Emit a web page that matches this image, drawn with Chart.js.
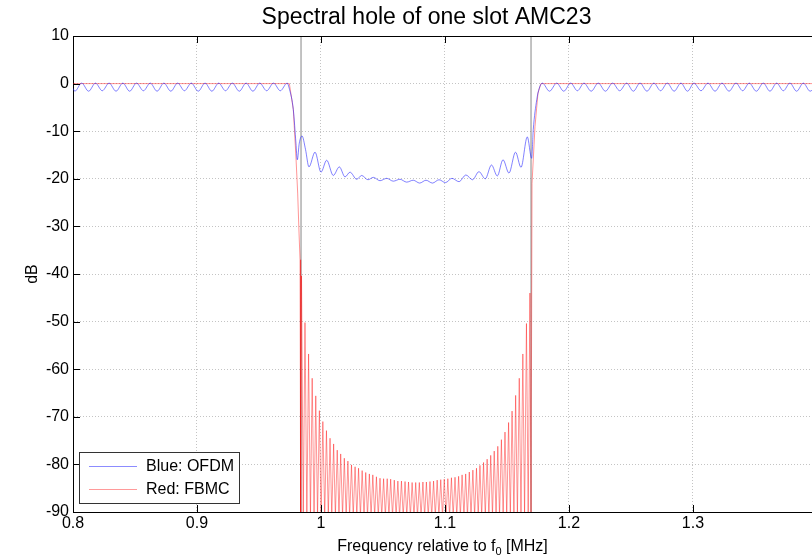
<!DOCTYPE html>
<html><head><meta charset="utf-8">
<style>html,body{margin:0;padding:0;background:#fff;overflow:hidden}#wrap{width:812px;height:557px}</style>
</head><body><div id="wrap"><canvas id="c" width="812" height="557"></canvas></div>
<script src="https://cdn.jsdelivr.net/npm/chart.js@4.4.0/dist/chart.umd.min.js"></script>
<script>
// ---------- text ----------
const titleText = 'Spectral hole of one slot AMC23';
const xLabelMain = 'Frequency relative to f';
const xLabelSub = '0';
const xLabelTail = ' [MHz]';
const yLabelText = 'dB';
const legendLabels = ['Blue: OFDM', 'Red: FBMC'];

// ---------- axes ----------
const xMin = 0.8, xMax = 1.396, xStep = 0.1;
const yMin = -90, yMax = 10, yStep = 10;
const holeEdges = [0.9839, 1.1694];

// ---------- Blue: OFDM ----------
const blueF = [
 0.8000,0.8015,0.8070,0.8126,0.8181,0.8236,0.8291,0.8347,0.8402,0.8457,0.8512,0.8568,0.8623,0.8678,0.8733,0.8789,
 0.8844,0.8899,0.8954,0.9010,0.9065,0.9120,0.9175,0.9230,0.9285,0.9341,0.9396,0.9451,0.9506,0.9562,0.9617,0.9672,0.9727,
 0.9746,0.9777,0.9798,0.9809,0.9825,0.9847,0.9875,0.9903,0.9952,1.0000,1.0046,1.0099,1.0148,1.0194,1.0234,1.0288,
 1.0328,1.0379,1.0422,1.0476,1.0530,1.0583,1.0637,1.0691,1.0744,1.0796,1.0847,1.0899,1.0952,1.1004,1.1056,1.1113,
 1.1169,1.1222,1.1274,1.1325,1.1375,1.1422,1.1468,1.1516,1.1569,1.1613,1.1664,1.1699,1.1712,1.1740,1.1760,1.1785,
 1.1843,1.1901,1.1958,1.2014,1.2068,1.2121,1.2179,1.2236,1.2294,1.2352,1.2409,1.2465,1.2519,1.2573,1.2629,1.2685,
 1.2739,1.2793,1.2848,1.2903,1.2956,1.3008,1.3065,1.3121,1.3178,1.3234,1.3291,1.3347,1.3401,1.3454,1.3511,1.3567,
 1.3621,1.3675,1.3729,1.3782,1.3836,1.3890,1.3945,1.3980
];
const blueDb = [
 -1.0,-1.6,0.1,-1.6,0.1,-1.5,0.1,-1.6,0.1,-1.6,0.1,-1.5,0.1,-1.6,0.1,-1.6,
 0.1,-1.5,0.1,-1.6,0.1,-1.6,0.1,-1.5,0.1,-1.6,0.1,-1.6,0.1,-1.5,0.1,-1.5,0.1,
 -1.2,-5.5,-12.5,-16.0,-12.5,-11.0,-13.8,-17.5,-14.4,-18.6,-16.1,-19.3,-17.5,-19.6,-18.6,-20.1,
 -19.3,-20.2,-19.7,-20.4,-19.9,-20.5,-20.1,-20.7,-20.3,-20.9,-20.3,-20.9,-20.2,-20.8,-19.9,-20.6,
 -19.2,-20.2,-18.5,-20.0,-17.1,-19.4,-16.0,-18.8,-14.4,-17.6,-11.2,-15.7,-9.7,-3.4,-1.0,0.1,
 -1.6,0.1,-1.6,0.1,-1.5,0.1,-1.6,0.1,-1.6,0.1,-1.5,0.1,-1.6,0.1,-1.6,0.1,
 -1.5,0.1,-1.6,0.1,-1.6,0.1,-1.5,0.1,-1.6,0.1,-1.6,0.1,-1.5,0.1,-1.6,0.1,
 -1.6,0.1,-1.5,0.1,-1.6,0.1,-1.6,-0.8
];

// ---------- Red: FBMC ----------
const NULL_DB = -91; // spectral nulls fall below the visible axis
const redLeftF  = [0.8000, 0.9745, 0.9777, 0.9798, 0.9812, 0.9823, 0.9831, 0.9836];
const redLeftDb = [0,      0,      -5.5,   -15.4,  -23.0,  -31.4,  -37.0,  NULL_DB];
const redPeakF = [
 0.9843,0.9871,0.9900,0.9929,0.9958,0.9987,1.0015,1.0044,1.0073,1.0102,1.0131,1.0159,1.0188,1.0217,1.0246,1.0275,
 1.0303,1.0332,1.0361,1.0390,1.0418,1.0447,1.0476,1.0505,1.0534,1.0562,1.0591,1.0620,1.0649,1.0678,1.0706,1.0735,
 1.0764,1.0793,1.0822,1.0850,1.0879,1.0908,1.0937,1.0966,1.0994,1.1023,1.1052,1.1081,1.1110,1.1138,1.1167,1.1196,
 1.1225,1.1254,1.1282,1.1311,1.1340,1.1369,1.1397,1.1426,1.1455,1.1484,1.1513,1.1541,1.1570,1.1599,1.1628,1.1657,1.1685
];
const redPeakDb = [
 -40.4,-50.2,-56.8,-61.9,-65.6,-68.7,-71.0,-72.9,-74.5,-75.7,-77.0,-77.8,-78.7,-79.3,-80.1,-80.5,
 -80.8,-81.3,-81.7,-82.0,-82.2,-82.6,-82.9,-83.0,-83.0,-83.1,-83.3,-83.5,-83.5,-83.6,-83.7,-83.8,
 -83.8,-83.8,-83.7,-83.7,-83.6,-83.5,-83.3,-83.2,-83.1,-83.0,-82.8,-82.7,-82.5,-82.2,-82.0,-81.6,
 -81.2,-80.8,-80.2,-79.6,-78.9,-78.1,-77.2,-76.2,-74.8,-73.2,-71.2,-68.8,-65.5,-61.9,-56.8,-50.4,-44.0
];
const redNullF = [
 0.9857,0.9886,0.9915,0.9944,0.9972,1.0001,1.0030,1.0059,1.0087,1.0116,1.0145,1.0174,1.0203,1.0231,1.0260,1.0289,
 1.0318,1.0347,1.0375,1.0404,1.0433,1.0462,1.0490,1.0519,1.0548,1.0577,1.0606,1.0634,1.0663,1.0692,1.0721,1.0750,
 1.0778,1.0807,1.0836,1.0865,1.0893,1.0922,1.0951,1.0980,1.1009,1.1037,1.1066,1.1095,1.1124,1.1153,1.1181,1.1210,
 1.1239,1.1268,1.1296,1.1325,1.1354,1.1383,1.1412,1.1440,1.1469,1.1498,1.1527,1.1556,1.1584,1.1613,1.1642,1.1671
];
const redRightF  = [1.1694,  1.1702, 1.1726, 1.1750, 1.1774, 1.3980];
const redRightDb = [NULL_DB, -21.0,  -9.0,   -2.0,   0,      0];

// ---------- build tables ----------
const blueData = blueF.map((f, i) => ({x: f, y: blueDb[i]}));
const redData = redLeftF.map((f, i) => ({x: f, y: redLeftDb[i]}));
redPeakF.forEach((f, k) => {
  redData.push({x: f, y: redPeakDb[k]});
  if (k < redNullF.length) redData.push({x: redNullF[k], y: NULL_DB});
});
redRightF.forEach((f, i) => redData.push({x: f, y: redRightDb[i]}));

const FONT = "'Liberation Sans', Arial, sans-serif";
const BLUE = 'rgba(30,30,255,0.7)';
const RED = 'rgba(255,0,0,0.6)';
const GRID = '#c4c4c4';

const edgeSets = holeEdges.map(f => ({
  label: 'edge', data: [{x: f, y: yMin}, {x: f, y: yMax}],
  borderColor: 'rgba(95,95,95,0.75)', borderWidth: 1, pointRadius: 0, order: 2, tension: 0
}));

const decor = {
  id: 'decor',
  afterDraw(chart) {
    const ctx = chart.ctx, a = chart.chartArea;
    const xs = chart.scales.x, ys = chart.scales.y;
    ctx.save();
    // top border
    ctx.strokeStyle = '#000'; ctx.lineWidth = 1;
    ctx.beginPath(); ctx.moveTo(a.left, a.top + 0.5); ctx.lineTo(a.right, a.top + 0.5); ctx.stroke();
    // inside ticks
    ctx.beginPath();
    xs.ticks.forEach(t => {
      const px = Math.round(xs.getPixelForValue(t.value)) + 0.5;
      ctx.moveTo(px, a.bottom); ctx.lineTo(px, a.bottom - 7);
      ctx.moveTo(px, a.top); ctx.lineTo(px, a.top + 7);
    });
    ys.ticks.forEach(t => {
      const py = Math.round(ys.getPixelForValue(t.value)) + 0.5;
      ctx.moveTo(a.left, py); ctx.lineTo(a.left + 7, py);
    });
    ctx.stroke();
    // title
    ctx.fillStyle = '#000';
    ctx.font = '23px ' + FONT;
    ctx.textAlign = 'center'; ctx.textBaseline = 'middle';
    ctx.fillText(titleText, 426.5, 18);
    // x label with subscript
    ctx.font = '16px ' + FONT;
    const w1 = ctx.measureText(xLabelMain).width;
    const w3 = ctx.measureText(xLabelTail).width;
    ctx.font = '11px ' + FONT;
    const w2 = ctx.measureText(xLabelSub).width;
    const total = w1 + w2 + w3;
    let x0 = (a.left + a.right) / 2 - total / 2;
    ctx.textAlign = 'left'; ctx.textBaseline = 'alphabetic';
    ctx.font = '16px ' + FONT;
    ctx.fillText(xLabelMain, x0, 551);
    ctx.font = '11px ' + FONT;
    ctx.fillText(xLabelSub, x0 + w1, 555);
    ctx.font = '16px ' + FONT;
    ctx.fillText(xLabelTail, x0 + w1 + w2, 551);
    // y label
    ctx.save();
    ctx.translate(33, (a.top + a.bottom) / 2);
    ctx.rotate(-Math.PI / 2);
    ctx.textAlign = 'center'; ctx.textBaseline = 'middle';
    ctx.fillText(yLabelText, 0, 0);
    ctx.restore();
    // legend
    const lx = 79.5, ly = 452.5, lw = 160, lh = 51;
    ctx.fillStyle = '#fff';
    ctx.fillRect(lx, ly, lw, lh);
    ctx.strokeStyle = '#333'; ctx.lineWidth = 1;
    ctx.strokeRect(lx, ly, lw, lh);
    const rows = [{c: '#8c8cff', y: 466, t: legendLabels[0]}, {c: '#ff9a9a', y: 489, t: legendLabels[1]}];
    rows.forEach(r => {
      ctx.strokeStyle = r.c; ctx.lineWidth = 1;
      ctx.beginPath(); ctx.moveTo(89, r.y + 0.5); ctx.lineTo(137, r.y + 0.5); ctx.stroke();
      ctx.fillStyle = '#000'; ctx.font = '16px ' + FONT;
      ctx.textAlign = 'left'; ctx.textBaseline = 'middle';
      ctx.fillText(r.t, 146, r.y + 1);
    });
    ctx.restore();
  }
};

new Chart(document.getElementById('c'), {
  type: 'line',
  data: {
    datasets: [
      {label: legendLabels[0], data: blueData, borderColor: BLUE, borderWidth: 0.8, pointRadius: 0,
       cubicInterpolationMode: 'monotone', order: 0},
      {label: legendLabels[1], data: redData, borderColor: RED, borderWidth: 0.7, pointRadius: 0,
       tension: 0, order: 1},
      ...edgeSets
    ]
  },
  options: {
    responsive: false, animation: false, devicePixelRatio: 1,
    layout: {padding: {top: 36, left: 0, right: 0, bottom: 0}},
    plugins: {legend: {display: false}, tooltip: {enabled: false}, title: {display: false}},
    scales: {
      x: {
        type: 'linear', min: xMin, max: xMax,
        afterFit: s => { s.height = 45; },
        grid: {color: GRID, drawTicks: false, lineWidth: 1},
        border: {display: true, color: '#000', width: 1, dash: [1, 2]},
        ticks: {stepSize: xStep, includeBounds: false, padding: 2, color: '#000',
                font: {family: FONT, size: 16},
                callback: v => String(Number(v.toFixed(1)))}
      },
      y: {
        type: 'linear', min: yMin, max: yMax,
        afterFit: s => { s.width = 73; },
        grid: {color: GRID, drawTicks: false, lineWidth: 1},
        border: {display: true, color: '#000', width: 1, dash: [1, 2]},
        ticks: {stepSize: yStep, padding: 4, color: '#000',
                font: {family: FONT, size: 16},
                callback: v => String(Math.round(v))}
      }
    }
  },
  plugins: [decor]
});
</script>
</body></html>
